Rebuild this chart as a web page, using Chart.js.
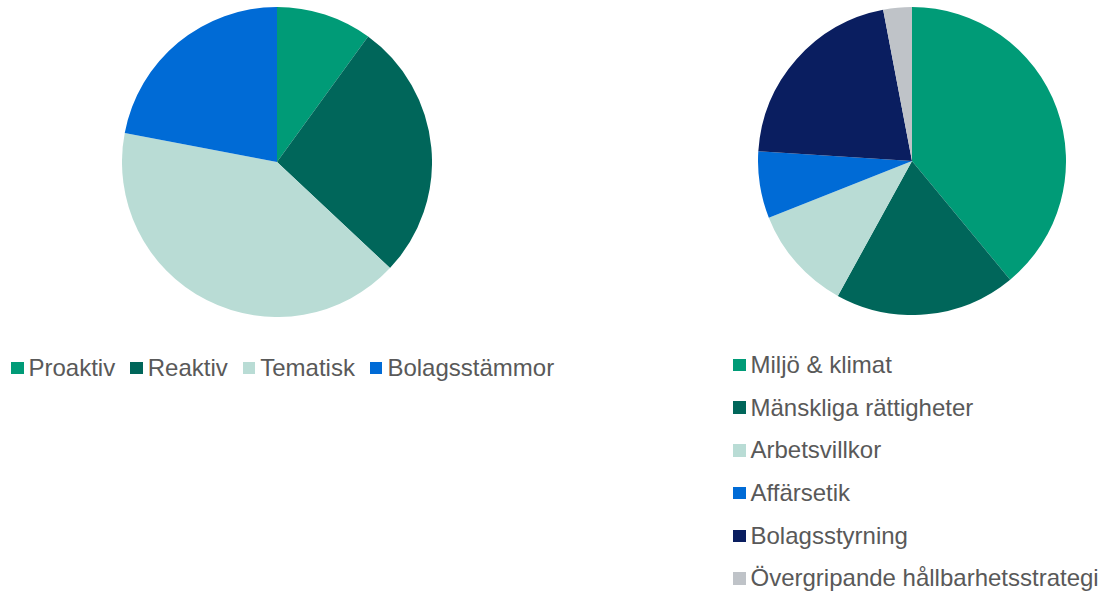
<!DOCTYPE html>
<html>
<head>
<meta charset="utf-8">
<script src="https://cdn.jsdelivr.net/npm/chart.js@4"></script>
<style>
  html, body { margin:0; padding:0; background:#fff; width:1104px; height:593px; overflow:hidden; position:relative;
    font-family: "Liberation Sans", Arial, sans-serif; }
  .pie { position:absolute; }
  .legend { position:absolute; color:#595959; font-size:24px; line-height:28px; }
  .legend .item { display:flex; align-items:center; white-space:nowrap; height:28px; }
  .legend .box { width:12.5px; height:12.5px; margin-right:5px; flex:none; }
  #leg1 { left:11px; top:354px; display:flex; }
  #leg1 .item { margin-right:15px; }
  #leg2 { left:733px; top:351px; }
  #leg2 .item { margin-bottom:14.7px; }
</style>
</head>
<body>
<div class="pie" style="left:122px;top:7px;width:310px;height:310px;"><canvas id="c1"></canvas></div>
<div class="pie" style="left:758px;top:7px;width:308px;height:308px;"><canvas id="c2"></canvas></div>
<div class="legend" id="leg1"></div>
<div class="legend" id="leg2"></div>
<script>
const typeLabels = ["Proaktiv", "Reaktiv", "Tematisk", "Bolagsstämmor"];
const typeValues = [10, 27, 41, 22];
const typeColors = ["#009B77", "#00665A", "#B9DCD5", "#006BD6"];

const topicLabels = ["Miljö & klimat", "Mänskliga rättigheter", "Arbetsvillkor", "Affärsetik", "Bolagsstyrning", "Övergripande hållbarhetsstrategi"];
const topicValues = [39, 19, 11, 7, 21, 3];
const topicColors = ["#009B77", "#00665A", "#B9DCD5", "#006BD6", "#0A1E60", "#BFC3C8"];

function makePie(id, labels, values, colors) {
  new Chart(document.getElementById(id), {
    type: 'pie',
    data: { labels: labels, datasets: [{ data: values, backgroundColor: colors, borderWidth: 0, hoverOffset: 0 }] },
    options: {
      responsive: true, maintainAspectRatio: false, animation: false,
      layout: { padding: 0 },
      plugins: { legend: { display: false }, tooltip: { enabled: false } }
    }
  });
}
function makeLegend(id, labels, colors) {
  const el = document.getElementById(id);
  labels.forEach((l, i) => {
    const it = document.createElement('div'); it.className = 'item';
    const b = document.createElement('span'); b.className = 'box'; b.style.background = colors[i];
    const t = document.createElement('span'); t.textContent = l;
    it.appendChild(b); it.appendChild(t); el.appendChild(it);
  });
}
makePie('c1', typeLabels, typeValues, typeColors);
makePie('c2', topicLabels, topicValues, topicColors);
makeLegend('leg1', typeLabels, typeColors);
makeLegend('leg2', topicLabels, topicColors);
</script>
</body>
</html>
